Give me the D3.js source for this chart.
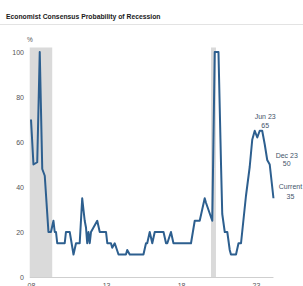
<!DOCTYPE html>
<html>
<head>
<meta charset="utf-8">
<script src="https://cdn.jsdelivr.net/npm/d3@7"></script>
<style>
  body { margin: 0; background: #fff; }
  svg { display: block; font-family: "Liberation Sans", Arial, sans-serif; }
</style>
</head>
<body>
<svg id="chart"></svg>
<script>
// Readings of the monthly series (YYYY-MM, %)
const months = ["2008-01","2008-03","2008-06","2008-08","2008-10","2008-12","2009-03","2009-05","2009-07","2009-08","2009-09","2009-10",
  "2010-04","2010-05","2010-08","2010-11","2011-01","2011-04","2011-06","2011-07","2011-08","2011-09","2011-10","2011-11","2011-12","2012-01",
  "2012-06","2012-08","2013-01","2013-02","2013-05","2013-06","2013-08","2013-11","2014-05","2014-06","2014-08","2015-07","2015-09","2015-10",
  "2015-12","2016-02","2016-04","2016-11","2017-01","2017-02","2017-05","2017-07","2018-09","2018-12","2019-04","2019-06","2019-08","2019-09",
  "2020-02","2020-04","2020-07","2020-09","2020-10","2020-12","2021-02","2021-04","2021-05","2021-09","2021-11","2022-01","2022-05","2022-08",
  "2022-10","2022-12","2023-02","2023-04","2023-06","2023-08","2023-10","2023-12","2024-03"];
const values = [70,50,51,100,48,45,20,20,25,20,20,15,
  15,20,20,10,15,15,35,30,25,22,15,20,15,20,
  25,20,20,15,15,13,15,10,10,12,10,10,15,15,
  20,15,20,20,15,15,20,15,15,25,25,30,35,33,
  25,100,100,50,28,20,20,12,10,10,15,15,36,49,
  61,65,62,65,65,59,52,50,35];

const recessions = [["2007-12","2009-06"], ["2020-01","2020-05"]];
const yTicks = [0, 20, 40, 60, 80, 100];
const xTicks = ["2008-01","2013-01","2018-01","2023-01"];
const notes = [
  { month: "2023-06", value: 65, label: "Jun 23" },
  { month: "2023-12", value: 50, label: "Dec 23" },
  { month: "2024-03", value: 35, label: "Current" }
];

const width = 303, height = 286;
const parse = d3.utcParse("%Y-%m");
const data = months.map((m, i) => ({ date: parse(m), value: values[i] }));

const svg = d3.select("#chart").attr("width", width).attr("height", height);

// Title and rule
svg.append("text")
    .attr("x", 6).attr("y", 19)
    .style("font-size", "6.8px")
    .style("font-weight", "bold")
    .attr("fill", "#1a1a1a")
    .text("Economist Consensus Probability of Recession");
svg.append("line")
    .attr("x1", 0).attr("x2", width)
    .attr("y1", 24.5).attr("y2", 24.5)
    .attr("stroke", "#e3e3e3");

const x = d3.scaleUtc()
    .domain([parse("2008-01"), parse("2024-01")])
    .range([31, 271]);
const y = d3.scaleLinear()
    .domain([0, 100])
    .range([277, 52]);

// Recession shading
svg.selectAll(".rec")
    .data(recessions)
    .enter().append("rect")
    .attr("class", "rec")
    .attr("x", d => x(parse(d[0])))
    .attr("width", d => x(parse(d[1])) - x(parse(d[0])))
    .attr("y", y(102))
    .attr("height", y(0) - y(102))
    .attr("fill", "#dadada");

// Y axis
const yAxis = svg.append("g")
    .attr("transform", "translate(27,0)")
    .call(d3.axisLeft(y).tickValues(yTicks).tickSize(0).tickPadding(3));
yAxis.select(".domain").remove();
yAxis.selectAll("text")
    .style("font-size", "7px")
    .style("font-family", "Liberation Sans, Arial, sans-serif")
    .attr("fill", "#555");

svg.append("text")
    .attr("x", 30).attr("y", 42)
    .attr("text-anchor", "middle")
    .style("font-size", "6.5px")
    .attr("fill", "#555")
    .text("%");

// X axis
const xAxis = svg.append("g")
    .attr("transform", `translate(0,${y(0)})`)
    .call(d3.axisBottom(x).tickValues(xTicks.map(parse)).tickFormat(d3.utcFormat("%y")).tickSize(0).tickPadding(6));
xAxis.select(".domain").remove();
xAxis.selectAll("text")
    .style("font-size", "7px")
    .style("font-family", "Liberation Sans, Arial, sans-serif")
    .attr("fill", "#555");
svg.append("line")
    .attr("x1", x(parse("2007-12"))).attr("x2", x(parse("2024-03")))
    .attr("y1", y(0) + 0.5).attr("y2", y(0) + 0.5)
    .attr("stroke", "#cfcfcf");

// Series line
const line = d3.line()
    .x(d => x(d.date))
    .y(d => y(d.value));
svg.append("path")
    .datum(data)
    .attr("fill", "none")
    .attr("stroke", "#2d5f8f")
    .attr("stroke-width", 2)
    .attr("stroke-linejoin", "round")
    .attr("d", line);

// Annotations
const noteOffsets = { "Jun 23": [3, -12, 9], "Dec 23": [17, -7, 8.5], "Current": [17, -9, 9.5] };
const ng = svg.selectAll(".note")
    .data(notes)
    .enter().append("text")
    .attr("class", "note")
    .attr("text-anchor", "middle")
    .style("font-size", "7px")
    .attr("fill", "#44546a");
ng.append("tspan")
    .attr("x", d => x(parse(d.month)) + noteOffsets[d.label][0])
    .attr("y", d => y(d.value) + noteOffsets[d.label][1])
    .text(d => d.label);
ng.append("tspan")
    .attr("x", d => x(parse(d.month)) + noteOffsets[d.label][0])
    .attr("dy", d => noteOffsets[d.label][2])
    .text(d => d.value);
</script>
</body>
</html>
